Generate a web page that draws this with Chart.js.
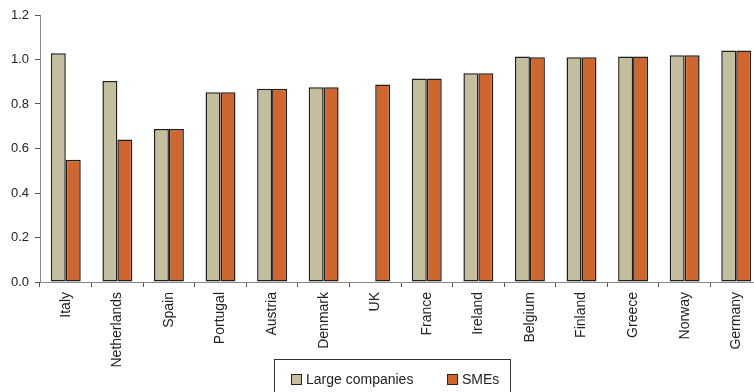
<!DOCTYPE html>
<html>
<head>
<meta charset="utf-8">
<script src="https://cdn.jsdelivr.net/npm/chart.js@4/dist/chart.umd.min.js"></script>
<style>
  html, body { margin: 0; padding: 0; background: #fff; overflow: hidden; }
  #wrap { position: relative; width: 762px; height: 392px; }
  #legend {
    position: absolute; left: 274px; top: 359px; width: 237px; height: 40px;
    border: 1px solid #333; box-sizing: border-box;
    font-family: "Liberation Sans", Arial, sans-serif; font-size: 14px; color: #222;
  }
  .item { position: absolute; top: 11px; height: 16px; line-height: 16px; white-space: nowrap; }
  .swatch { display: inline-block; width: 9px; height: 9px; border: 1px solid #222; vertical-align: -1px; margin-right: 4px; }
</style>
</head>
<body>
<div id="wrap">
  <canvas id="chart"></canvas>
  <div id="legend"></div>
</div>
<script>
// Ratio by country, large companies vs SMEs
const countries = ['Italy', 'Netherlands', 'Spain', 'Portugal', 'Austria', 'Denmark', 'UK',
  'France', 'Ireland', 'Belgium', 'Finland', 'Greece', 'Norway', 'Germany'];
const largeCompanies = [1.028, 0.903, 0.688, 0.853, 0.869, 0.875, null,
  0.915, 0.938, 1.014, 1.010, 1.014, 1.019, 1.041];
const smes = [0.550, 0.641, 0.688, 0.853, 0.869, 0.875, 0.888,
  0.915, 0.938, 1.010, 1.010, 1.014, 1.019, 1.041];
const yTicks = [0, 0.2, 0.4, 0.6, 0.8, 1.0, 1.2];

const seriesNames = ['Large companies', 'SMEs'];
const seriesColors = ['#C4BE9C', '#D0662D'];

const family = '"Liberation Sans", Arial, sans-serif';

const chart = new Chart(document.getElementById('chart'), {
  type: 'bar',
  data: {
    labels: countries,
    datasets: [
      { label: seriesNames[0], data: largeCompanies, backgroundColor: seriesColors[0] },
      { label: seriesNames[1], data: smes, backgroundColor: seriesColors[1] }
    ].map(d => Object.assign(d, {
      borderColor: '#1e1e1e', borderWidth: 1.5, borderSkipped: false,
      categoryPercentage: 0.58, barPercentage: 1.0
    }))
  },
  options: {
    responsive: true,
    maintainAspectRatio: false,
    animation: false,
    layout: { padding: { top: 15, right: 0, left: 0, bottom: 0 } },
    plugins: { legend: { display: false }, tooltip: { enabled: false } },
    scales: {
      x: {
        grid: { display: true, drawOnChartArea: false, drawTicks: true, tickLength: 5, color: '#555', offset: true },
        border: { display: true, color: '#888', width: 1 },
        ticks: { minRotation: 90, maxRotation: 90, autoSkip: false, padding: 5, color: '#222',
                 font: { family: family, size: 14 } },
        afterFit: s => { s.height = 110; }
      },
      y: {
        min: 0, max: 1.2,
        afterBuildTicks: s => { s.ticks = yTicks.map(v => ({ value: v })); },
        grid: { display: true, drawOnChartArea: false, drawTicks: true, tickLength: 5, color: '#555' },
        border: { display: true, color: '#888', width: 1 },
        ticks: { padding: 6, color: '#222', font: { family: family, size: 13 },
                 callback: v => Number(v).toFixed(1) },
        afterFit: s => { s.width = 40; }
      }
    }
  }
});

// Legend built from the dataset names and colours
const legend = document.getElementById('legend');
const legendX = [16, 172];
chart.data.datasets.forEach((ds, i) => {
  const item = document.createElement('div');
  item.className = 'item';
  item.style.left = legendX[i] + 'px';
  const sw = document.createElement('span');
  sw.className = 'swatch';
  sw.style.background = ds.backgroundColor;
  item.appendChild(sw);
  item.appendChild(document.createTextNode(ds.label));
  legend.appendChild(item);
});
</script>
</body>
</html>
